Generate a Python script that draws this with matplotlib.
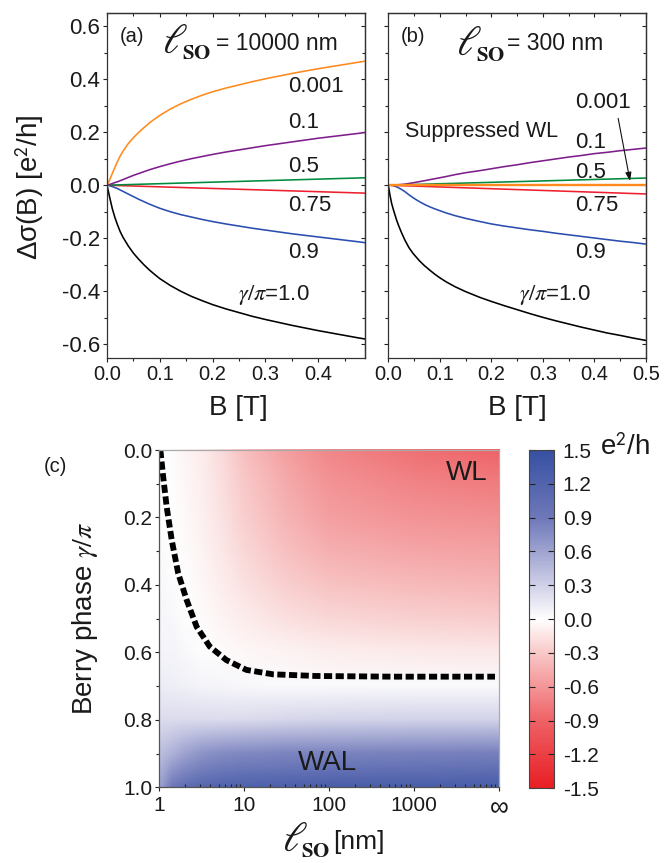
import numpy as np
import matplotlib
matplotlib.use("Agg")
import matplotlib.pyplot as plt
from matplotlib.ticker import MultipleLocator, FixedLocator, FixedFormatter, NullFormatter, FormatStrFormatter
from matplotlib.colors import LinearSegmentedColormap, Normalize
from matplotlib.image import NonUniformImage

plt.rcParams['font.family'] = ['Liberation Sans', 'DejaVu Sans']
plt.rcParams['mathtext.fontset'] = 'stix'
plt.rcParams['axes.unicode_minus'] = False

# ---------------- data: panel (a), l_SO = 10000 nm ----------------
Ba = [0, 0.005, 0.01, 0.015, 0.02, 0.025, 0.03, 0.04, 0.05, 0.06, 0.07, 0.08, 0.09, 0.1,
      0.12, 0.14, 0.16, 0.18, 0.2, 0.225, 0.25, 0.275, 0.3, 0.325, 0.35, 0.375, 0.4,
      0.425, 0.45, 0.475, 0.49]
a_orange = [0, 0.020, 0.044, 0.067, 0.090, 0.110, 0.127, 0.156, 0.179, 0.199, 0.217, 0.234, 0.249, 0.263,
            0.287, 0.307, 0.324, 0.339, 0.352, 0.366, 0.378, 0.390, 0.401, 0.411, 0.421, 0.430, 0.439,
            0.447, 0.455, 0.463, 0.468]
a_purple = [0, 0.003, 0.006, 0.010, 0.013, 0.017, 0.021, 0.029, 0.037, 0.044, 0.051, 0.058, 0.064, 0.070,
            0.081, 0.091, 0.100, 0.108, 0.116, 0.125, 0.133, 0.141, 0.149, 0.156, 0.163, 0.170, 0.177,
            0.183, 0.189, 0.195, 0.199]
a_blue = [0, -0.002, -0.005, -0.009, -0.013, -0.018, -0.023, -0.033, -0.043, -0.053, -0.062, -0.071, -0.079, -0.087,
          -0.100, -0.111, -0.120, -0.129, -0.137, -0.146, -0.154, -0.162, -0.169, -0.176, -0.183, -0.189, -0.195,
          -0.201, -0.207, -0.213, -0.217]
a_black = [0, -0.045, -0.088, -0.122, -0.150, -0.175, -0.195, -0.228, -0.256, -0.279, -0.300, -0.319, -0.336, -0.352,
           -0.378, -0.400, -0.419, -0.435, -0.450, -0.466, -0.480, -0.494, -0.506, -0.517, -0.528, -0.538, -0.548,
           -0.557, -0.566, -0.575, -0.580]
Ba_lin = [0, 0.49]
a_green = [0, 0.028]
a_red = [0, -0.03]

# ---------------- data: panel (b), l_SO = 300 nm ----------------
Bb_lin = [0, 0.5]
b_orange = [0, 0.0]
b_green = [0, 0.027]
b_red = [0, -0.033]
Bb_purple = [0, 0.016, 0.032, 0.048, 0.065, 0.081, 0.1, 0.113, 0.13, 0.15, 0.178, 0.2, 0.225, 0.25,
             0.275, 0.3, 0.325, 0.35, 0.375, 0.4, 0.425, 0.45, 0.475, 0.5]
b_purple = [0, 0.001, 0.004, 0.009, 0.015, 0.021, 0.028, 0.033, 0.040, 0.047, 0.055, 0.062, 0.070, 0.077,
            0.085, 0.092, 0.099, 0.106, 0.112, 0.119, 0.124, 0.130, 0.135, 0.140]
Bb_blue = [0, 0.008, 0.016, 0.024, 0.032, 0.04, 0.048, 0.056, 0.065, 0.073, 0.081, 0.09, 0.1, 0.113, 0.13,
           0.15, 0.178, 0.2, 0.225, 0.25, 0.275, 0.3, 0.325, 0.35, 0.375, 0.4, 0.425, 0.45, 0.475, 0.5]
b_blue = [0, -0.001, -0.006, -0.014, -0.024, -0.036, -0.047, -0.057, -0.067, -0.075, -0.082, -0.089, -0.096,
          -0.105, -0.115, -0.125, -0.137, -0.146, -0.154, -0.161, -0.168, -0.174, -0.181, -0.187, -0.193,
          -0.199, -0.205, -0.211, -0.216, -0.222]
Bb_black = [0, 0.003, 0.0065, 0.01, 0.016, 0.02, 0.025, 0.032, 0.04, 0.048, 0.06, 0.07, 0.081, 0.09, 0.1,
            0.113, 0.13, 0.15, 0.178, 0.2, 0.225, 0.255, 0.275, 0.3, 0.325, 0.35, 0.375, 0.4, 0.425, 0.45,
            0.475, 0.5]
b_black = [0, -0.035, -0.069, -0.093, -0.131, -0.152, -0.176, -0.206, -0.235, -0.257, -0.284, -0.303, -0.321,
           -0.335, -0.349, -0.365, -0.383, -0.401, -0.423, -0.438, -0.454, -0.472, -0.484, -0.498, -0.511,
           -0.523, -0.535, -0.546, -0.557, -0.566, -0.576, -0.585]

gamma_labels = ['0.001', '0.1', '0.5', '0.75', '0.9']

# ---------------- data: panel (c) ----------------
log_lso = [0, 0.15, 0.3, 0.5, 0.75, 1.0, 1.5, 2.0, 3.0, 4.0]
gamma_rows = [0.0, 0.1, 0.2, 0.3, 0.4, 0.5, 0.6, 0.7, 0.8, 0.9, 1.0]
dsigma = [
    [0.00, -0.02, -0.05, -0.10, -0.20, -0.35, -0.55, -0.68, -0.82, -0.90],
    [0.01, -0.01, -0.04, -0.09, -0.18, -0.30, -0.48, -0.60, -0.70, -0.74],
    [0.02, 0.00, -0.03, -0.08, -0.16, -0.26, -0.42, -0.53, -0.60, -0.63],
    [0.03, 0.01, -0.02, -0.06, -0.13, -0.22, -0.35, -0.44, -0.50, -0.52],
    [0.04, 0.02, -0.01, -0.04, -0.10, -0.16, -0.26, -0.33, -0.38, -0.40],
    [0.05, 0.04, 0.01, -0.02, -0.06, -0.10, -0.17, -0.22, -0.25, -0.27],
    [0.07, 0.06, 0.04, 0.01, -0.02, -0.04, -0.07, -0.09, -0.11, -0.12],
    [0.11, 0.10, 0.09, 0.07, 0.05, 0.04, 0.03, 0.03, 0.03, 0.03],
    [0.22, 0.22, 0.22, 0.22, 0.22, 0.23, 0.25, 0.26, 0.27, 0.28],
    [0.40, 0.50, 0.60, 0.70, 0.75, 0.78, 0.80, 0.82, 0.83, 0.84],
    [0.60, 0.90, 1.05, 1.15, 1.20, 1.22, 1.25, 1.27, 1.28, 1.30],
]
lso_dash = [1.03, 1.1, 1.22, 1.40, 1.67, 2.10, 2.75, 3.93, 6.17, 10.6, 21.7, 70, 556, 8900]
gamma_dash = [0.0, 0.07, 0.168, 0.267, 0.366, 0.445, 0.524, 0.583, 0.623, 0.652, 0.665, 0.670, 0.672, 0.672]
xticks_c = [1, 10, 100, 1000, 10000]
xticklabels_c = ['1', '10', '100', '1000', '\u221e']
cbar_ticks = [-1.5, -1.2, -0.9, -0.6, -0.3, 0.0, 0.3, 0.6, 0.9, 1.2, 1.5]

# ---------------- figure ----------------
W, H = 664, 863
fig = plt.figure(figsize=(W / 100, H / 100), dpi=100)


def fx(x):
    return x / W


def fy(y):
    return 1 - y / H


C_OR = '#FF8A1E'
C_PU = '#7E1E8C'
C_GR = '#008A3E'
C_RE = '#EE2030'
C_BL = '#2A4DB0'
C_BK = '#000000'
TC = '#1a1a1a'
MAJ, MIN = 3.2, 2.0

axa = fig.add_axes([fx(107), fy(357.7), 258 / W, 345 / H])
axb = fig.add_axes([fx(388.3), fy(357.7), 257.7 / W, 345 / H])


def style_top(ax, xmax, show_y):
    ax.set_xlim(0, xmax)
    ax.set_ylim(-0.65, 0.65)
    ax.xaxis.set_major_locator(MultipleLocator(0.1))
    ax.xaxis.set_minor_locator(MultipleLocator(0.05))
    ax.yaxis.set_major_locator(MultipleLocator(0.2))
    ax.yaxis.set_minor_locator(MultipleLocator(0.1))
    ax.tick_params(which='both', direction='out', top=False, right=False, colors='#222222')
    ax.tick_params(which='major', length=MAJ, width=0.8)
    ax.tick_params(which='minor', length=MIN, width=0.8)
    ax.tick_params(axis='x', labelsize=14.5, pad=2, labelcolor=TC)
    ax.tick_params(axis='y', labelsize=16, pad=2, labelcolor=TC)
    ax.xaxis.set_major_formatter(FormatStrFormatter('%.1f'))
    ax.yaxis.set_major_formatter(FormatStrFormatter('%.1f'))
    if not show_y:
        ax.yaxis.set_major_formatter(NullFormatter())
    for s in ax.spines.values():
        s.set_linewidth(0.9)
        s.set_color('#333333')
    sx = ax.secondary_xaxis('top')
    sx.xaxis.set_major_locator(MultipleLocator(0.1))
    sx.xaxis.set_minor_locator(MultipleLocator(0.05))
    sx.tick_params(which='both', direction='in', labeltop=False, colors='#222222')
    sx.tick_params(which='major', length=MAJ, width=0.8)
    sx.tick_params(which='minor', length=MIN, width=0.8)
    sy = ax.secondary_yaxis('right')
    sy.yaxis.set_major_locator(MultipleLocator(0.2))
    sy.yaxis.set_minor_locator(MultipleLocator(0.1))
    sy.tick_params(which='both', direction='in', labelright=False, colors='#222222')
    sy.tick_params(which='major', length=MAJ, width=0.8)
    sy.tick_params(which='minor', length=MIN, width=0.8)
    for s in list(sx.spines.values()) + list(sy.spines.values()):
        s.set_linewidth(0.9)
        s.set_color('#333333')


lw = 1.15
axa.plot(Ba, a_black, color=C_BK, lw=lw)
axa.plot(Ba, a_blue, color=C_BL, lw=lw)
axa.plot(Ba_lin, a_red, color=C_RE, lw=lw)
axa.plot(Ba_lin, a_green, color=C_GR, lw=lw)
axa.plot(Ba, a_purple, color=C_PU, lw=lw)
axa.plot(Ba, a_orange, color=C_OR, lw=lw)
style_top(axa, 0.4886, True)

axb.plot(Bb_black, b_black, color=C_BK, lw=lw)
axb.plot(Bb_blue, b_blue, color=C_BL, lw=lw)
axb.plot(Bb_lin, b_red, color=C_RE, lw=lw)
axb.plot(Bb_lin, b_green, color=C_GR, lw=lw)
axb.plot(Bb_purple, b_purple, color=C_PU, lw=lw)
axb.plot(Bb_lin, b_orange, color=C_OR, lw=1.7)
style_top(axb, 0.5, False)

# axis labels
fig.text(fx(30), fy(187), '\u0394\u03c3(B) [e$^{\\mathsf{2}}$/h]', rotation=90, ha='center', va='center',
         fontsize=20, color=TC)
fig.text(fx(238), fy(408), 'B [T]', ha='center', va='center', fontsize=20, color=TC)
fig.text(fx(517), fy(408), 'B [T]', ha='center', va='center', fontsize=20, color=TC)

# panel titles
fig.text(fx(132), fy(37), '(a)', ha='center', va='center', fontsize=14.5, color=TC)
fig.text(fx(162), fy(53), r'$\ell$', ha='left', va='baseline', fontsize=30, color=TC)
fig.text(fx(182), fy(59), r'$\mathbf{SO}$', ha='left', va='baseline', fontsize=15, color=TC)
fig.text(fx(216), fy(50), '= 10000 nm', ha='left', va='baseline', fontsize=16.5, color=TC)

fig.text(fx(413), fy(37), '(b)', ha='center', va='center', fontsize=14.5, color=TC)
fig.text(fx(456), fy(55), r'$\ell$', ha='left', va='baseline', fontsize=30, color=TC)
fig.text(fx(476), fy(61), r'$\mathbf{SO}$', ha='left', va='baseline', fontsize=15, color=TC)
fig.text(fx(507), fy(50), '= 300 nm', ha='left', va='baseline', fontsize=16.5, color=TC)

# curve labels (a)
ya = [87, 122, 167, 205, 252]
for lab, y in zip(gamma_labels, ya):
    fig.text(fx(288), fy(y), lab, ha='left', va='center', fontsize=16, color=TC)
fig.text(fx(238), fy(295), r'$\gamma/\pi$=1.0', ha='left', va='center', fontsize=16, color=TC)

# curve labels (b)
yb = [103, 142, 172, 205, 253]
for lab, y in zip(gamma_labels, yb):
    fig.text(fx(575), fy(y), lab, ha='left', va='center', fontsize=16, color=TC)
fig.text(fx(519), fy(295), r'$\gamma/\pi$=1.0', ha='left', va='center', fontsize=16, color=TC)
fig.text(fx(405), fy(132), 'Suppressed WL', ha='left', va='center', fontsize=15.5, color=TC)
axb.annotate('', xy=(0.470, 0.006), xytext=(0.445, 0.262),
             arrowprops=dict(arrowstyle='-|>,head_length=0.5,head_width=0.18', color='#111111', lw=0.8))

# ---------------- panel (c) ----------------
cmap = LinearSegmentedColormap.from_list('rwb', [
    (0.0, (232 / 255, 30 / 255, 36 / 255)),
    (0.2, (238 / 255, 98 / 255, 102 / 255)),
    (0.4, (249 / 255, 200 / 255, 200 / 255)),
    (0.5, (1, 1, 1)),
    (0.6, (208 / 255, 208 / 255, 232 / 255)),
    (0.8, (110 / 255, 120 / 255, 185 / 255)),
    (1.0, (55 / 255, 80 / 255, 162 / 255)),
])
norm = Normalize(vmin=-1.5, vmax=1.5)

axc = fig.add_axes([fx(159.3), fy(787.3), 340 / W, 337.3 / H])
im = NonUniformImage(axc, interpolation='bilinear', cmap=cmap, norm=norm,
                     extent=(0, 4, 0, 1))
im.set_data(np.array(log_lso), np.array(gamma_rows), np.array(dsigma))
axc.add_image(im)
axc.plot(np.log10(lso_dash), gamma_dash, color='black', lw=4.2, dashes=(1.4, 0.6), dash_capstyle='butt')
axc.set_xlim(0, 4)
axc.set_ylim(1.0, 0.0)
axc.xaxis.set_major_locator(FixedLocator(np.log10(xticks_c)))
axc.xaxis.set_major_formatter(FixedFormatter(xticklabels_c))
minor_pos = [np.log10(k * 10.0 ** n) for n in range(4) for k in range(2, 10)]
axc.xaxis.set_minor_locator(FixedLocator(minor_pos))
axc.xaxis.set_minor_formatter(NullFormatter())
axc.yaxis.set_major_locator(MultipleLocator(0.2))
axc.yaxis.set_minor_locator(MultipleLocator(0.1))
axc.yaxis.set_major_formatter(FormatStrFormatter('%.1f'))
axc.tick_params(which='both', direction='out', top=False, right=False, colors='#222222')
axc.tick_params(which='major', length=MAJ, width=0.8)
axc.tick_params(which='minor', length=MIN, width=0.8)
axc.tick_params(axis='x', which='minor', direction='in', length=2.5)
axc.tick_params(axis='x', labelsize=15, pad=3, labelcolor=TC)
axc.tick_params(axis='y', labelsize=15, pad=2, labelcolor=TC)
for k, s in axc.spines.items():
    s.set_linewidth(0.9)
    s.set_color('#555555' if k in ('left', 'bottom') else '#aaaaaa')
for lbl in axc.get_xticklabels():
    if lbl.get_text() == '\u221e':
        lbl.set_fontsize(19)
        lbl.set_verticalalignment('top')

fig.text(fx(55), fy(466), '(c)', ha='center', va='center', fontsize=14.5, color=TC)
fig.text(fx(85), fy(618), r'Berry phase $\gamma/\pi$', rotation=90, ha='center', va='center', fontsize=20, color=TC)
fig.text(fx(467), fy(473), 'WL', ha='center', va='center', fontsize=20, color=TC)
fig.text(fx(327), fy(763), 'WAL', ha='center', va='center', fontsize=20, color=TC)
fig.text(fx(282), fy(851), r'$\ell$', ha='left', va='baseline', fontsize=30, color=TC)
fig.text(fx(301), fy(857), r'$\mathbf{SO}$', ha='left', va='baseline', fontsize=15, color=TC)
fig.text(fx(333), fy(849), '[nm]', ha='left', va='baseline', fontsize=19, color=TC)

cax = fig.add_axes([fx(529.3), fy(788.3), 25 / W, 338.3 / H])
sm = matplotlib.cm.ScalarMappable(norm=norm, cmap=cmap)
cb = fig.colorbar(sm, cax=cax, ticks=cbar_ticks)
cb.ax.yaxis.set_major_formatter(FormatStrFormatter('%.1f'))
cb.ax.tick_params(labelsize=15, direction='in', length=4, width=0.8, left=True, right=True, pad=6,
                  colors='#222222', labelcolor=TC)
cb.outline.set_linewidth(0.8)
cb.outline.set_edgecolor('#444444')
fig.text(fx(600), fy(448), 'e$^{\\mathsf{2}}$/h', ha='left', va='center', fontsize=20, color=TC)

fig.savefig('out.png', dpi=100)
